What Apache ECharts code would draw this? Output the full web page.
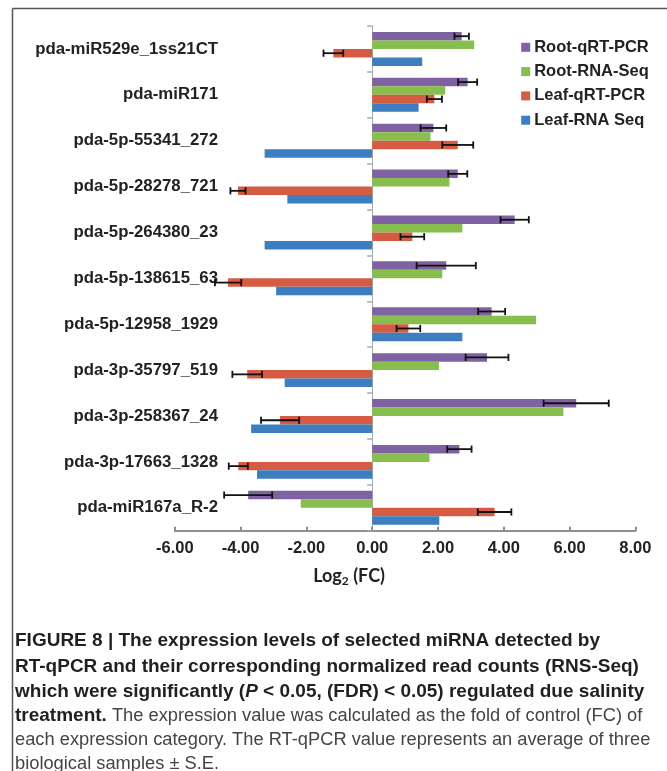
<!DOCTYPE html>
<html>
<head>
<meta charset="utf-8">
<script src="https://cdn.jsdelivr.net/npm/echarts@6/dist/echarts.min.js"></script>
<style>
html,body{margin:0;padding:0;background:#fff;}
#chart{width:667px;height:771px;}
</style>
</head>
<body>
<div id="chart"></div>
<script>
var categories = ['pda-miR529e_1ss21CT','pda-miR171','pda-5p-55341_272','pda-5p-28278_721','pda-5p-264380_23','pda-5p-138615_63','pda-5p-12958_1929','pda-3p-35797_519','pda-3p-258367_24','pda-3p-17663_1328','pda-miR167a_R-2'];
var seriesNames = ['Root-qRT-PCR','Root-RNA-Seq','Leaf-qRT-PCR','Leaf-RNA Seq'];
var rootQ    = [2.72, 2.90, 1.86, 2.60, 4.33, 2.25, 3.63, 3.49, 6.20, 2.65, -3.77];
var rootQErr = [0.22, 0.29, 0.39, 0.29, 0.43, 0.90, 0.41, 0.65, 0.99, 0.37, 0.73];
var rootSeq  = [3.10, 2.22, 1.77, 2.35, 2.74, 2.13, 4.98, 2.03, 5.81, 1.74, -2.17];
var leafQ    = [-1.18, 1.89, 2.60, -4.08, 1.22, -4.38, 1.10, -3.80, -2.80, -4.07, 3.72];
var leafQErr = [0.30, 0.23, 0.47, 0.23, 0.36, 0.40, 0.36, 0.45, 0.58, 0.29, 0.51];
var leafSeq  = [1.52, 1.41, -3.27, -2.58, -3.27, -2.92, 2.74, -2.66, -3.68, -3.50, 2.04];

var colors = ['#7E62A1', '#88BE4E', '#D65B43', '#3C7EBF'];
var catGap = 0.26;

var chart = echarts.init(document.getElementById('chart'), null, {renderer: 'canvas'});

function errRender(slot) {
  return function (params, api) {
    var c = api.value(0), v = api.value(1), e = api.value(2);
    var p = api.coord([v, c]);
    var band = api.size([0, 1])[1];
    var barH = band * (1 - catGap) / 4;
    var y = p[1] + (slot - 1.5) * barH;
    var x1 = api.coord([v - e, c])[0];
    var x2 = api.coord([v + e, c])[0];
    var h = barH * 0.42;
    var st = {stroke: '#111', lineWidth: 1.8};
    return {
      type: 'group',
      children: [
        {type: 'line', shape: {x1: x1, y1: y, x2: x2, y2: y}, style: st},
        {type: 'line', shape: {x1: x1, y1: y - h, x2: x1, y2: y + h}, style: st},
        {type: 'line', shape: {x1: x2, y1: y - h, x2: x2, y2: y + h}, style: st}
      ]
    };
  };
}
function errData(vals, errs) {
  return vals.map(function (v, i) { return [i, v, errs[i]]; });
}

var font = 'Liberation Sans, Arial, sans-serif';
var capBold = 'bold 19px Liberation Sans, Arial, sans-serif';
var capReg = '18.3px Liberation Sans, Arial, sans-serif';

var option = {
  animation: false,
  backgroundColor: '#fff',
  grid: {left: 174.8, right: 31.6, top: 26, bottom: 240.3, containLabel: false},
  legend: {
    orient: 'vertical',
    left: 516.2,
    top: 33.8,
    itemWidth: 9,
    itemHeight: 9,
    itemGap: 7.3,
    icon: 'rect',
    data: seriesNames,
    textStyle: {fontFamily: font, fontWeight: 'bold', fontSize: 16.5, lineHeight: 17, color: '#222', padding: [0, 0, 0, -1]}
  },
  xAxis: {
    type: 'value',
    min: -6, max: 8, interval: 2,
    axisLine: {show: true, onZero: false, lineStyle: {color: '#8B9096', width: 2}},
    axisTick: {show: true, inside: true, length: 4, lineStyle: {color: '#8B9096', width: 2}},
    splitLine: {show: false},
    axisLabel: {
      margin: 9,
      fontFamily: font, fontWeight: 'bold', fontSize: 16.5, color: '#222',
      formatter: function (v) { return v.toFixed(2); }
    },
    name: '{a|Log}{b|2}{a| (FC)}',
    nameLocation: 'middle',
    nameGap: 35,
    nameTextStyle: {
      padding: [0, 112, 0, 0],
      rich: {
        a: {fontFamily: 'Lato, Open Sans, sans-serif', fontWeight: 'bold', fontSize: 18, color: '#222'},
        b: {fontFamily: 'Lato, Open Sans, sans-serif', fontWeight: 'bold', fontSize: 12, color: '#222', padding: [9, 0, 0, 0]}
      }
    }
  },
  yAxis: [
    {
      type: 'category',
      data: categories,
      inverse: true,
      position: 'left',
      offset: -43.2,
      axisLine: {show: false, onZero: false},
      axisTick: {show: false},
      axisLabel: {margin: 0, fontFamily: font, fontWeight: 'bold', fontSize: 16.8, color: '#222', padding: [3, 0, 0, 0]}
    },
    {
      type: 'category',
      data: categories,
      inverse: true,
      position: 'left',
      axisLine: {show: true, onZero: true, lineStyle: {color: '#A5AAB0', width: 1}},
      axisTick: {show: true, length: 5, lineStyle: {color: '#A5AAB0', width: 1.5}},
      axisLabel: {show: false}
    }
  ],
  series: [
    {name: seriesNames[0], type: 'bar', yAxisIndex: 0, data: rootQ, itemStyle: {color: colors[0]}, barGap: '0%', barCategoryGap: (catGap * 100) + '%'},
    {name: seriesNames[1], type: 'bar', yAxisIndex: 0, data: rootSeq, itemStyle: {color: colors[1]}},
    {name: seriesNames[2], type: 'bar', yAxisIndex: 0, data: leafQ, itemStyle: {color: colors[2]}},
    {name: seriesNames[3], type: 'bar', yAxisIndex: 0, data: leafSeq, itemStyle: {color: colors[3]}},
    {type: 'custom', yAxisIndex: 0, renderItem: errRender(0), data: errData(rootQ, rootQErr), encode: {x: 1, y: 0}, z: 5},
    {type: 'custom', yAxisIndex: 0, renderItem: errRender(2), data: errData(leafQ, leafQErr), encode: {x: 1, y: 0}, z: 5}
  ],
  graphic: [
    {type: 'line', shape: {x1: 12.5, y1: 8.5, x2: 667, y2: 8.5}, style: {stroke: '#555', lineWidth: 1.5}},
    {type: 'line', shape: {x1: 12.5, y1: 8.5, x2: 12.5, y2: 771}, style: {stroke: '#555', lineWidth: 1.5}},
    {type: 'text', x: 15, y: 641, style: {text: 'FIGURE 8 | The expression levels of selected miRNA detected by', font: capBold, fill: '#231F20', verticalAlign: 'middle'}},
    {type: 'text', x: 15, y: 666.5, style: {text: 'RT-qPCR and their corresponding normalized read counts (RNS-Seq)', font: capBold, fill: '#231F20', verticalAlign: 'middle'}},
    {type: 'text', x: 15, y: 691.5, style: {
      text: '{b|which were significantly (}{bi|P}{b| < 0.05, (FDR) < 0.05) regulated due salinity}',
      verticalAlign: 'middle',
      rich: {
        b: {font: capBold, fill: '#231F20'},
        bi: {font: 'italic ' + capBold, fill: '#231F20'}
      }}},
    {type: 'text', x: 15, y: 716, style: {
      text: '{b|treatment.}{r| The expression value was calculated as the fold of control (FC) of}',
      verticalAlign: 'middle',
      rich: {
        b: {font: capBold, fill: '#231F20'},
        r: {font: capReg, fill: '#444'}
      }}},
    {type: 'text', x: 15, y: 740, style: {text: 'each expression category. The RT-qPCR value represents an average of three', font: capReg, fill: '#444', verticalAlign: 'middle'}},
    {type: 'text', x: 15, y: 763.5, style: {text: 'biological samples \u00B1 S.E.', font: capReg, fill: '#444', verticalAlign: 'middle'}}
  ]
};
chart.setOption(option);
</script>
</body>
</html>
